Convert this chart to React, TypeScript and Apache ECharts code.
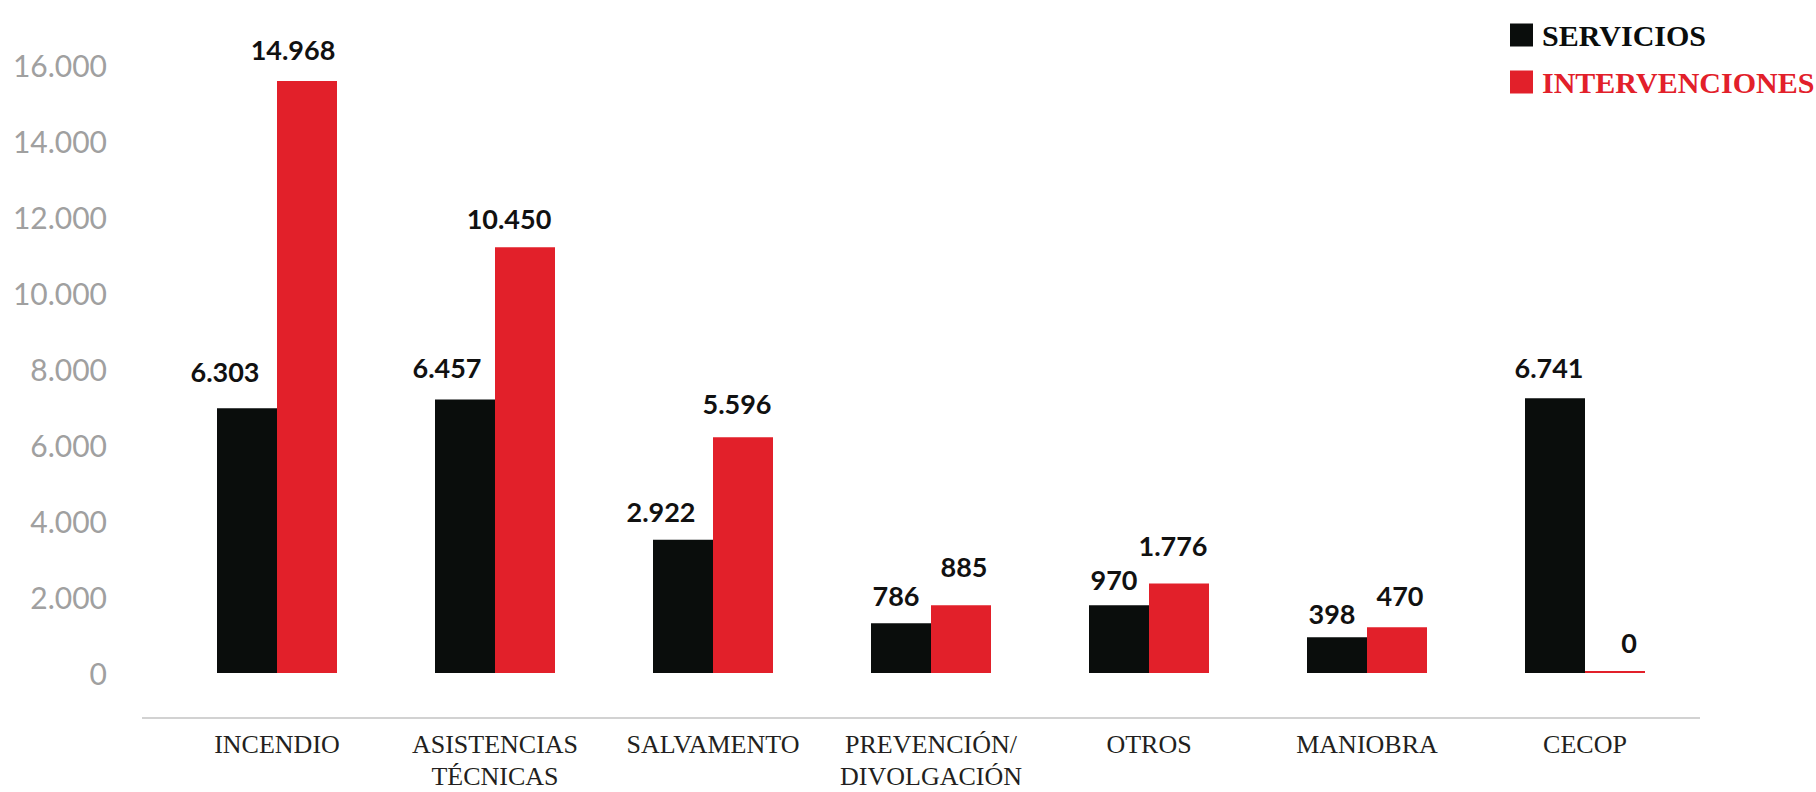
import React, { useEffect, useRef } from "react";
import * as echarts from "echarts";

// Categories (x axis)
const categories = [
  "INCENDIO",
  "ASISTENCIAS\nTÉCNICAS",
  "SALVAMENTO",
  "PREVENCIÓN/\nDIVOLGACIÓN",
  "OTROS",
  "MANIOBRA",
  "CECOP",
];

// Printed values (labels above the bars)
const serviciosValues = [6303, 6457, 2922, 786, 970, 398, 6741];
const intervencionesValues = [14968, 10450, 5596, 885, 1776, 470, 0];

// Bar heights as drawn in the picture, read against the y axis
const serviciosBarHeights = [6965, 7200, 3509, 1309, 1780, 943, 7227];
const intervencionesBarHeights = [15580, 11207, 6206, 1780, 2357, 1204, 50];

// Y axis ticks
const yMin = 0;
const yMax = 16000;
const yInterval = 2000;

const seriesNames = ["SERVICIOS", "INTERVENCIONES"];

// Label nudges (style only): [dx, dy] per category
const serviciosLabelNudge = [
  [-22, -7], [-18, -2], [-22, 1], [-5, 2], [-5, 4], [-5, 6], [-6, -1],
];
const intervencionesLabelNudge = [
  [-14, -2], [-16, 1], [-6, -4], [3, -9], [-6, -8], [3, -2], [14, 1],
];

const BLACK = "#0a0d0c";
const RED = "#e2202a";

const fmt = (n: number) =>
  String(n).replace(/\B(?=(\d{3})+(?!\d))/g, ".");

export default function App() {
  const ref = useRef<HTMLDivElement>(null);

  useEffect(() => {
    if (!ref.current) return;
    const chart = echarts.init(ref.current, undefined, { renderer: "svg" });

    const mkData = (heights: number[], nudges: number[][]) =>
      heights.map((h, i) => ({
        value: h,
        label: { offset: nudges[i] },
      }));

    const labelBase = {
      show: true,
      position: "top" as const,
      distance: 16,
      color: "#111111",
      fontFamily: "Lato",
      fontWeight: "bold" as const,
      fontSize: 27,
    };

    chart.setOption({
      animation: false,
      backgroundColor: "#ffffff",
      grid: { left: 168, right: 122, top: 65, bottom: 116 },
      legend: {
        orient: "vertical",
        left: 1505,
        top: 15,
        itemWidth: 23,
        itemHeight: 23,
        itemGap: 17,
        icon: "rect",
        selectedMode: false,
        textStyle: {
          fontFamily: "Liberation Serif",
          fontWeight: "bold",
          fontSize: 30,
          lineHeight: 23,
          padding: [0, 0, 0, 4],
        },
        data: [
          { name: seriesNames[0], textStyle: { color: BLACK } },
          { name: seriesNames[1], textStyle: { color: RED } },
        ],
      },
      xAxis: {
        type: "category",
        data: categories,
        offset: 42,
        axisLine: { show: false },
        axisTick: { show: false },
        axisLabel: {
          margin: 13,
          color: "#231f20",
          fontFamily: "Liberation Serif",
          fontSize: 26,
          lineHeight: 32,
          interval: 0,
        },
      },
      yAxis: {
        type: "value",
        min: yMin,
        max: yMax,
        interval: yInterval,
        axisLine: { show: false },
        axisTick: { show: false },
        splitLine: { show: false },
        axisLabel: {
          margin: 61,
          color: "#a0a0a0",
          fontFamily: "Lato",
          fontSize: 30,
          formatter: (v: number) => fmt(v),
        },
      },
      series: [
        {
          name: seriesNames[0],
          type: "bar",
          barWidth: 60,
          barGap: "0%",
          itemStyle: { color: BLACK },
          data: mkData(serviciosBarHeights, serviciosLabelNudge),
          label: {
            ...labelBase,
            formatter: (p: any) => fmt(serviciosValues[p.dataIndex]),
          },
        },
        {
          name: seriesNames[1],
          type: "bar",
          barWidth: 60,
          barGap: "0%",
          itemStyle: { color: RED },
          data: mkData(intervencionesBarHeights, intervencionesLabelNudge),
          label: {
            ...labelBase,
            formatter: (p: any) => fmt(intervencionesValues[p.dataIndex]),
          },
        },
      ],
      graphic: [
        {
          type: "line",
          shape: { x1: 142, y1: 718, x2: 1700, y2: 718 },
          style: { stroke: "#d2d2d2", lineWidth: 2 },
          silent: true,
        },
      ],
    });

    return () => chart.dispose();
  }, []);

  return (
    <div
      ref={ref}
      style={{
        position: "fixed",
        left: 0,
        top: 0,
        width: 1816,
        height: 792,
        background: "#ffffff",
      }}
    />
  );
}
